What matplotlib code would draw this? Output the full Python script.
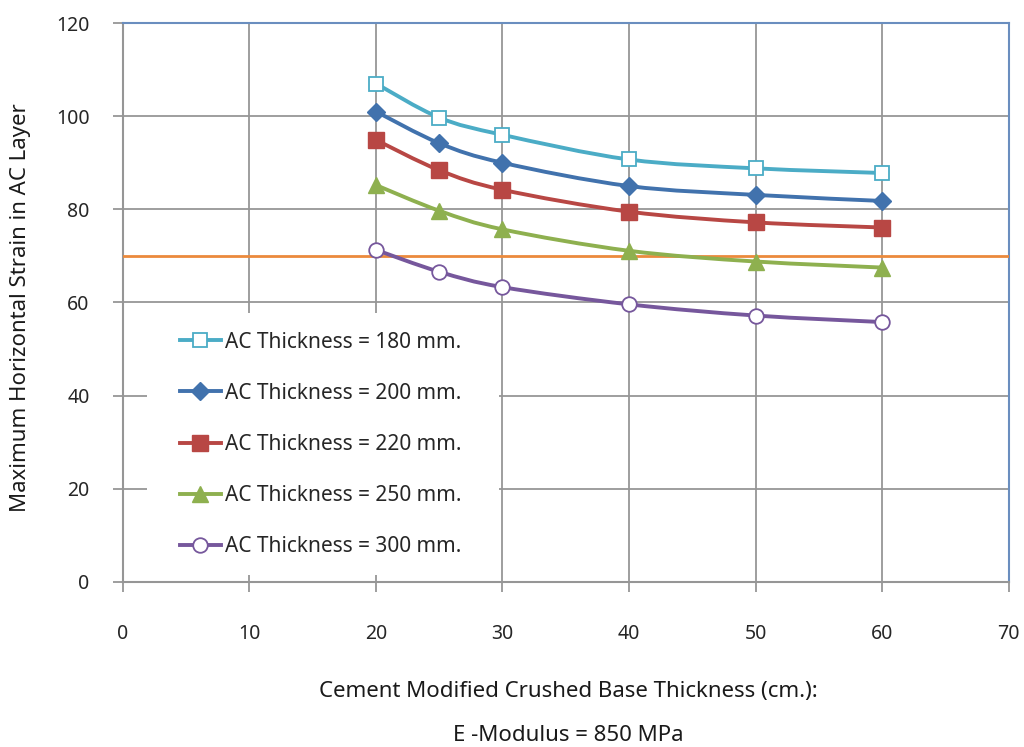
import matplotlib
matplotlib.use("Agg")
import matplotlib.pyplot as plt
from matplotlib.path import Path
from matplotlib.patches import PathPatch, Rectangle
from matplotlib.lines import Line2D
import numpy as np

plt.rcParams['font.family'] = ['Noto Sans', 'DejaVu Sans']

thickness_cm = [20, 25, 30, 40, 50, 60]
strain_180 = [107.0, 99.7, 96.0, 90.7, 88.8, 87.8]
strain_200 = [101.0, 94.2, 90.0, 85.0, 83.1, 81.8]
strain_220 = [94.9, 88.4, 84.2, 79.5, 77.2, 76.1]
strain_250 = [85.2, 79.7, 75.7, 71.1, 68.8, 67.5]
strain_300 = [71.3, 66.6, 63.3, 59.6, 57.2, 55.8]
limit_strain = 70

series = [
    ("AC Thickness = 180 mm.", strain_180, "#4bacc6", "s", "none", 10.5),
    ("AC Thickness = 200 mm.", strain_200, "#4172ad", "D", "#4172ad", 9.5),
    ("AC Thickness = 220 mm.", strain_220, "#b84744", "s", "#b84744", 11),
    ("AC Thickness = 250 mm.", strain_250, "#8eb04f", "^", "#8eb04f", 11),
    ("AC Thickness = 300 mm.", strain_300, "#76579c", "o", "none", 10.5),
]


def smooth_path(x, y):
    # excel-like smoothed line: cubic bezier through the points
    p = np.column_stack([x, y]).astype(float)
    n = len(p)
    verts = [p[0]]
    codes = [Path.MOVETO]
    for i in range(n - 1):
        p0 = p[max(i - 1, 0)]
        p1 = p[i]
        p2 = p[i + 1]
        p3 = p[min(i + 2, n - 1)]
        c1 = p1 + (p2 - p0) / 6
        c2 = p2 - (p3 - p1) / 6
        verts += [c1, c2, p2]
        codes += [Path.CURVE4] * 3
    return Path(verts, codes)


fig = plt.figure(figsize=(10.24, 7.47), dpi=100)
ax = fig.add_axes([0.120, 0.2209, 0.865, 0.7483])

ax.axhline(limit_strain, color="#eb8a3c", lw=2, zorder=3)

handles = []
for label, vals, col, mk, face, ms in series:
    ax.add_patch(PathPatch(smooth_path(thickness_cm, vals), facecolor="none",
                           edgecolor=col, lw=2.8, zorder=4, capstyle="round"))
    mfc = face if face != "none" else "white"
    mew = 1.3 if face == "none" else 1
    ax.plot(thickness_cm, vals, ls="none", marker=mk, ms=ms, mfc=mfc,
            mec=col, mew=mew, zorder=5)
    handles.append(Line2D([], [], color=col, lw=2.8, marker=mk, ms=ms,
                          mfc=mfc, mec=col, mew=mew, label=label))

ax.set_xlim(0, 70)
ax.set_ylim(0, 120)
ax.set_xticks(range(0, 71, 10))
ax.set_yticks(range(0, 121, 20))
ax.grid(True, color="#969696", lw=1.3)
ax.set_axisbelow(True)
ax.tick_params(axis="x", length=7, width=1.3, color="#969696", pad=23.5, labelsize=14, labelcolor="#262626")
ax.tick_params(axis="y", length=7, width=1.3, color="#969696", pad=17, labelsize=14, labelcolor="#262626")
for s in ["left", "bottom"]:
    ax.spines[s].set_color("#969696")
    ax.spines[s].set_linewidth(1.5)
for s in ["top", "right"]:
    ax.spines[s].set_color("#6a8ebf")
    ax.spines[s].set_linewidth(1.5)

# white box behind the legend hides the gridlines
ax.add_patch(Rectangle((0.027, 0.0125), 0.398, 0.469, transform=ax.transAxes,
                       facecolor="white", edgecolor="none", zorder=2))
leg = ax.legend(handles=handles, loc="upper left", bbox_to_anchor=(0.064, 0.448),
                fontsize=15, frameon=False, handlelength=2.0, handletextpad=0.2,
                labelspacing=1.45, borderpad=0, borderaxespad=0)
leg.set_zorder(6)
for t in leg.get_texts():
    t.set_color("#262626")

fig.text(0.020, 0.588, "Maximum Horizontal Strain in AC Layer", rotation=90,
         ha="center", va="center", fontsize=16, color="#1a1a1a")
fig.text(0.555, 0.074, "Cement Modified Crushed Base Thickness (cm.):",
         ha="center", va="center", fontsize=16, color="#1a1a1a")
fig.text(0.555, 0.016, "E -Modulus = 850 MPa",
         ha="center", va="center", fontsize=16, color="#1a1a1a")

fig.savefig("out.png", dpi=100, facecolor="white")
